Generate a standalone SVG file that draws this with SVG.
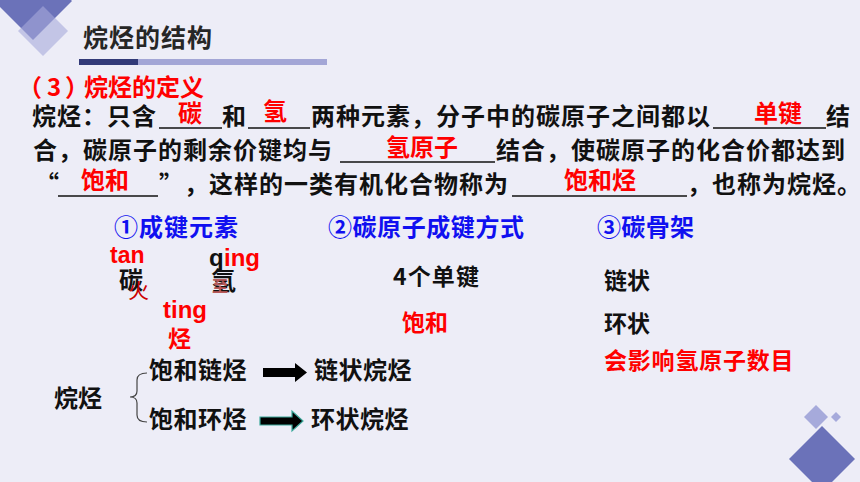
<svg xmlns="http://www.w3.org/2000/svg" width="860" height="482" viewBox="0 0 860 482">
<style>
.cjk{font-family:"Noto Sans CJK SC","Noto Sans",sans-serif;}
.lat{font-family:"Liberation Sans",Arial,sans-serif;font-weight:bold;}
.body{font-size:24px;fill:#111;font-weight:600;letter-spacing:1px;}
.ans{font-size:24px;fill:#FF0000;font-weight:bold;}
.hd{font-size:24px;fill:#1010F0;font-weight:bold;}
.blk{fill:#111;font-weight:600;}
.red{fill:#FF0000;font-weight:600;}
.ul{stroke:#111;stroke-width:1.3;}
.dark{fill:#6B72B9;}
.light{fill:#A6AADB;}
</style>
<rect width="860" height="482" fill="#EDEDF7"/>

<g id="deco-top-left">
<polygon class="dark" points="33,-38 72,1 33,40 -6,1"/>
<polygon class="light" opacity="0.6" points="43,6 68,31 43,56 18,31"/>
</g>

<g id="title">
<text class="cjk" x="83" y="47" font-size="25" font-weight="bold" fill="#262626" letter-spacing="1">烷烃的结构</text>
<rect x="79" y="59" width="59" height="6" fill="#323A78"/>
<rect x="138" y="59" width="189" height="6" fill="#A3A6D6"/>
</g>

<g id="definition">
<text class="cjk red" x="18" y="96" font-size="24">（</text>
<text class="cjk red" x="47" y="96" font-size="24">3</text>
<text class="cjk red" x="65" y="96" font-size="24">）</text>
<text class="cjk red" x="84" y="96" font-size="24">烷烃的定义</text>
<!-- line 1 -->
<text class="cjk body" x="32" y="125">烷烃：只含</text>
<line class="ul" x1="159" y1="128" x2="222" y2="128"/>
<text class="cjk ans" x="178" y="122">碳</text>
<text class="cjk body" x="222" y="125">和</text>
<line class="ul" x1="248" y1="128" x2="310" y2="128"/>
<text class="cjk ans" x="263" y="120">氢</text>
<text class="cjk body" x="311" y="125">两种元素，分子中的碳原子之间都以</text>
<line class="ul" x1="713" y1="128" x2="826" y2="128"/>
<text class="cjk ans" x="754" y="122">单键</text>
<text class="cjk body" x="826" y="125">结</text>
<!-- line 2 -->
<text class="cjk body" x="33" y="159">合，碳原子的剩余价键均与</text>
<line class="ul" x1="340" y1="162" x2="495" y2="162"/>
<text class="cjk ans" x="386" y="156">氢原子</text>
<text class="cjk body" x="496" y="159">结合，使碳原子的化合价都达到</text>
<!-- line 3 -->
<text class="cjk body" x="35" y="193">“</text>
<line class="ul" x1="58" y1="196" x2="158" y2="196"/>
<text class="cjk ans" x="81" y="189">饱和</text>
<text class="cjk body" x="159" y="193">”</text>
<text class="cjk body" x="184" y="193">，这样的一类有机化合物称为</text>
<line class="ul" x1="512" y1="196" x2="687" y2="196"/>
<text class="cjk ans" x="564" y="189">饱和烃</text>
<text class="cjk body" x="687" y="193">，也称为烷烃。</text>
</g>

<g id="col1">
<text class="cjk hd" x="114" y="236" textLength="124">①成键元素</text>
<text class="lat" x="110" y="263" font-size="23" fill="#FF0000">tan</text>
<text class="cjk blk" x="119" y="289" font-size="24">碳</text>
<text class="cjk" x="128" y="298" font-size="21" fill="#CC0000">火</text>
<text class="lat" x="209" y="266" font-size="24" fill="#111">q</text>
<text class="lat" x="224" y="266" font-size="24" fill="#FF0000">ing</text>
<text class="cjk blk" x="211" y="290" font-size="25">氢</text>
<text class="cjk" x="212" y="292" font-size="16" fill="#B85A5A" font-weight="bold">至</text>
<text class="lat" x="163" y="318" font-size="24" fill="#FF0000">ting</text>
<text class="cjk red" x="168" y="347" font-size="23">烃</text>
</g>

<g id="col2">
<text class="cjk hd" x="328" y="236" textLength="196">②碳原子成键方式</text>
<text class="cjk blk" x="393" y="285" font-size="23" textLength="86">4个单键</text>
<text class="cjk red" x="402" y="331" font-size="23">饱和</text>
</g>

<g id="col3">
<text class="cjk hd" x="597" y="236" textLength="97">③碳骨架</text>
<text class="cjk blk" x="604" y="289" font-size="23">链状</text>
<text class="cjk blk" x="604" y="332" font-size="23">环状</text>
<text class="cjk red" x="604" y="369" font-size="23" letter-spacing="0.8">会影响氢原子数目</text>
</g>

<g id="classification">
<text class="cjk blk" x="54" y="407" font-size="24">烷烃</text>
<text class="cjk blk" x="149" y="379" font-size="24" letter-spacing="0.5">饱和链烃</text>
<text class="cjk blk" x="314" y="379" font-size="24" letter-spacing="0.5">链状烷烃</text>
<text class="cjk blk" x="149" y="428" font-size="24" letter-spacing="0.5">饱和环烃</text>
<text class="cjk blk" x="311" y="428" font-size="24" letter-spacing="0.5">环状烷烃</text>
</g>

<g id="connectors">
<path d="M147,373 Q137,373 137,380 L137,391 Q137,397 130,397 Q137,397 137,403 L137,415 Q137,422 147,422" fill="none" stroke="#444" stroke-width="1.2"/>
<polygon points="263,368 295,368 295,363 307,372.5 295,382 295,377 263,377" fill="#000"/>
<polygon points="260,417 292,417 292,411 303,421 292,431 292,425 260,425" fill="#000" stroke="#3AA89A" stroke-width="1.2"/>
</g>

<g id="deco-bottom-right">
<polygon class="light" points="816,405 828,417 816,429 804,417"/>
<polygon class="light" points="836,412 841,417 836,422 831,417"/>
<polygon class="dark" points="822,426 855,459 822,492 789,459"/>
</g>
</svg>
